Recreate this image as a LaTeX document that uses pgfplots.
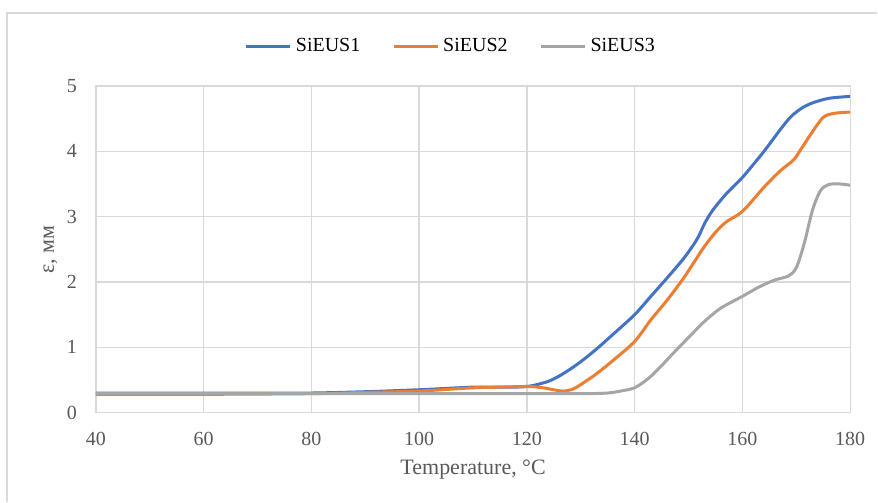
\documentclass[border=0pt]{standalone}
\usepackage{pgfplots}
\pgfplotsset{compat=1.18}
\usepackage{fontspec}
\setmainfont{Liberation Serif}
\definecolor{sblue}{HTML}{4472C4}
\definecolor{sorange}{HTML}{ED7D31}
\definecolor{sgray}{HTML}{A5A5A5}
\definecolor{gridc}{HTML}{D9D9D9}
\definecolor{txt}{HTML}{595959}
\begin{document}
\begin{tikzpicture}
% outer chart frame / page size
\path[fill=white] (-48pt,-44.5pt) rectangle (391pt,206.5pt);
\draw[gridc,line width=0.8pt] (-44.5pt,-44.5pt) -- (-44.5pt,200pt) -- (391pt,200pt);
\begin{axis}[
  at={(0,0)},anchor=origin,
  scale only axis,width=377.5pt,height=163.5pt,
  xmin=40,xmax=180,ymin=0,ymax=5,
  xtick={40,60,...,180},ytick={0,1,...,5},
  grid=major,major grid style={gridc,line width=0.7pt},
  axis line style={gridc,line width=0.7pt},
  tick style={draw=none},
  font=\fontsize{10}{12}\selectfont,
  ticklabel style={text=txt},
  /pgf/number format/assume math mode=true,
  xticklabel style={yshift=-6.5pt},
  yticklabel style={xshift=-6pt},
  xlabel={Temperature, °C},
  ylabel={ε, мм},
  label style={text=txt,font=\fontsize{11}{13}\selectfont},
  xlabel style={yshift=0pt},
  ylabel style={yshift=-2pt},
  legend style={draw=none,fill=none,at={(0.472,1.12)},anchor=center,
    legend columns=3,font=\fontsize{10}{12}\selectfont,
    /tikz/every even column/.append style={column sep=14pt}},
  legend image code/.code={\draw[#1,line width=1.5pt] (0pt,0pt) -- (22pt,0pt);},
  every axis plot/.append style={line width=1.5pt,no marks,smooth,tension=0.5},
]
\addplot[sblue] coordinates {
(40,0.3) (50,0.3) (60,0.3) (70,0.3) (80,0.3) (90,0.32) (100,0.35) (110,0.39)
(115,0.39) (120,0.4) (124,0.48) (127,0.61) (130,0.78) (133,0.98) (136,1.2)
(140,1.5) (143,1.78) (146,2.06) (149,2.35) (151,2.58) (152,2.72) (153,2.9)
(154.5,3.1) (157,3.35) (160,3.6) (164,4.0) (167,4.33) (169,4.53) (171,4.66)
(173,4.74) (176,4.81) (180,4.84)};
\addplot[sorange] coordinates {
(40,0.28) (60,0.28) (80,0.29) (90,0.31) (100,0.33) (110,0.38) (115,0.39)
(120,0.4) (123,0.38) (126.5,0.33) (128.5,0.36) (130,0.43) (133,0.6) (136,0.8)
(140,1.09) (143,1.42) (146,1.72) (149,2.05) (151,2.3) (153,2.55) (155,2.76)
(157,2.92) (160,3.08) (164,3.45) (167,3.7) (169.5,3.87) (171,4.05) (173,4.3)
(175,4.52) (177,4.58) (180,4.6)};
\addplot[sgray] coordinates {
(40,0.29) (60,0.29) (80,0.29) (100,0.29) (120,0.29) (130,0.29) (135,0.3)
(138,0.34) (140,0.38) (142.5,0.52) (145,0.72) (147.5,0.94) (150,1.15)
(153,1.4) (156,1.6) (160,1.78) (163,1.92) (166,2.03) (168.5,2.09) (170,2.22)
(171.5,2.6) (173,3.1) (174.5,3.4) (176,3.49) (178,3.5) (180,3.48)};
\legend{SiEUS1,SiEUS2,SiEUS3}
\end{axis}
\end{tikzpicture}
\end{document}
